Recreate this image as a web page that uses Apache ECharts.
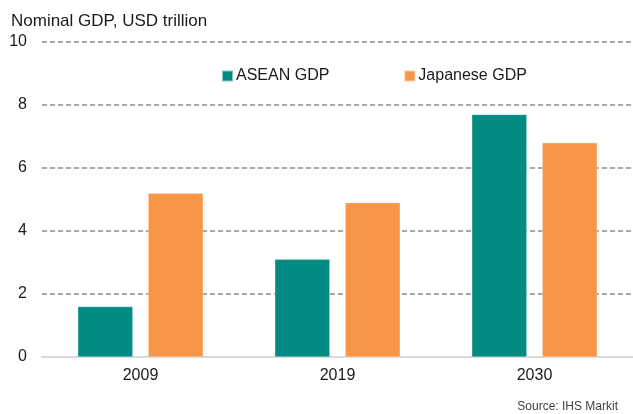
<!DOCTYPE html>
<html>
<head>
<meta charset="utf-8">
<script src="https://cdn.jsdelivr.net/npm/echarts@6/dist/echarts.min.js"></script>
<style>html,body{margin:0;padding:0;background:#fff}#c{width:633px;height:414px}</style>
</head>
<body>
<div id="c"></div>
<script>
const categories = ['2009', '2019', '2030'];
const aseanGDP = [1.6, 3.1, 7.7];
const japanGDP = [5.2, 4.9, 6.8];
const yTicks = { min: 0, max: 10, interval: 2 };

const chart = echarts.init(document.getElementById('c'), null, { renderer: 'canvas' });
const font = 'Arial, "Liberation Sans", sans-serif';
chart.setOption({
  animation: false,
  textStyle: { fontFamily: font },
  title: [
    { text: 'Nominal GDP, USD trillion', left: 6, top: 8, textStyle: { fontSize: 17, fontWeight: 'normal', color: '#1a1a1a', fontFamily: font } },
    { text: 'Source: IHS Markit', right: 10, top: 396, textStyle: { fontSize: 12, fontWeight: 'normal', color: '#404040', fontFamily: font } }
  ],
  legend: {
    top: 63, left: 216, itemWidth: 11, itemHeight: 11, itemGap: 74,
    icon: 'rect',
    textStyle: { fontSize: 16, color: '#1a1a1a', fontFamily: font, padding: [0, 0, 0, -2] },
    data: ['ASEAN GDP', 'Japanese GDP']
  },
  grid: { left: 42, right: -3, top: 42, bottom: 57, containLabel: false },
  xAxis: {
    type: 'category', data: categories,
    axisLine: { lineStyle: { color: '#d9d9d9', width: 2 } },
    axisTick: { show: false },
    axisLabel: { fontSize: 16, color: '#1a1a1a', margin: 11, fontFamily: font }
  },
  yAxis: {
    type: 'value', min: yTicks.min, max: yTicks.max, interval: yTicks.interval,
    axisLine: { show: false }, axisTick: { show: false },
    axisLabel: { fontSize: 16, color: '#1a1a1a', margin: 15, fontFamily: font },
    splitLine: { lineStyle: { color: '#8c8c8c', type: [5, 3], width: 1.5 } }
  },
  series: [
    { name: 'ASEAN GDP', type: 'bar', data: aseanGDP, barWidth: 55, barGap: '28%',
      itemStyle: { color: '#008C82', borderColor: 'rgba(255,255,255,0.5)', borderWidth: 0.5 } },
    { name: 'Japanese GDP', type: 'bar', data: japanGDP, barWidth: 55,
      itemStyle: { color: '#F79646', borderColor: 'rgba(255,255,255,0.5)', borderWidth: 0.5 } }
  ]
});
</script>
</body>
</html>
